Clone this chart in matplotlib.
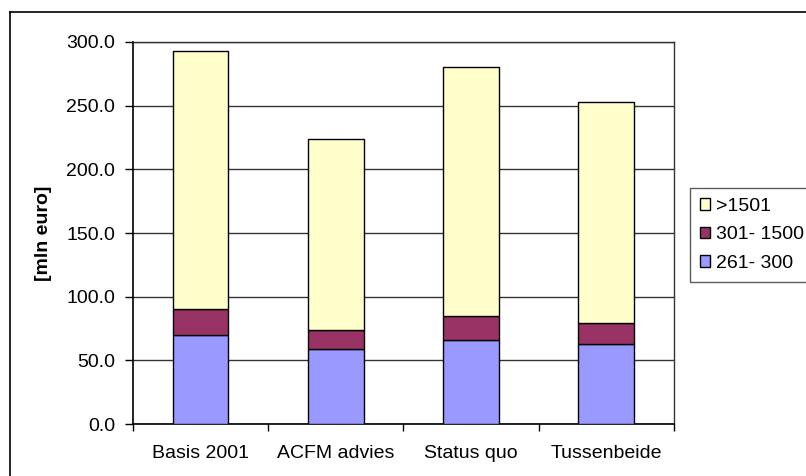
# Stacked bar chart: mln euro per scenario

import numpy as np
import matplotlib.pyplot as plt
from matplotlib.lines import Line2D
from matplotlib.ticker import MultipleLocator, FixedLocator

plt.rcParams['font.family'] = ['Liberation Sans', 'DejaVu Sans']

categories = ['Basis 2001', 'ACFM advies', 'Status quo', 'Tussenbeide']
series_names = ['261- 300', '301- 1500', '>1501']
v_261_300 = [70.0, 59.0, 66.0, 63.0]
v_301_1500 = [20.5, 15.0, 19.0, 16.0]
v_1501 = [202.5, 149.5, 195.0, 174.0]
colors = ['#9999FF', '#993366', '#FFFFCC']

FS = 14


def draw(values, names):
    fig = plt.figure(figsize=(8.06, 4.76), dpi=100)
    ax = fig.add_axes([0.165, 0.1092, 0.6710, 0.8026])

    x = np.arange(len(categories))
    bottom = np.zeros(len(categories))
    handles = []
    for vals, name, col in zip(values, names, colors):
        bars = ax.bar(x, vals, 0.41, bottom=bottom, color=col,
                      edgecolor='black', linewidth=1.0, label=name, zorder=3)
        handles.append(bars)
        bottom += np.array(vals)

    ax.set_xlim(-0.5, len(categories) - 0.5)
    ax.set_ylim(0, 300)
    ax.yaxis.set_major_locator(MultipleLocator(50))
    ax.set_yticklabels(['%.1f' % v for v in ax.get_yticks()])
    ax.yaxis.grid(True, color='#333333', linewidth=1.0, zorder=0)

    ax.set_xticks(x)
    ax.set_xticklabels(categories, fontsize=FS)
    ax.xaxis.set_minor_locator(FixedLocator(np.arange(-0.5, len(categories), 1.0)))
    ax.tick_params(axis='x', which='major', length=0, pad=15)
    ax.tick_params(axis='x', which='minor', length=5, width=1, color='black')
    ax.tick_params(axis='y', length=6, width=1, labelsize=FS, pad=7)

    for s in ['left', 'bottom']:
        ax.spines[s].set_color('black')
        ax.spines[s].set_linewidth(1.2)
    for s in ['top', 'right']:
        ax.spines[s].set_color('#333333')
        ax.spines[s].set_linewidth(1.0)

    ax.set_ylabel('[mln euro]', fontsize=FS, fontweight='bold', labelpad=10)

    # legend, reversed order like Excel
    leg = fig.legend(handles[::-1], names[::-1], loc='upper left',
                     bbox_to_anchor=(690 / 806, 1 - 188 / 476), fontsize=FS,
                     frameon=True, fancybox=False, handlelength=0.55,
                     handleheight=0.55, handletextpad=0.3, labelspacing=0.6,
                     borderpad=0.5, borderaxespad=0)
    leg.get_frame().set_edgecolor('#333333')
    leg.get_frame().set_linewidth(1.0)

    # chart area border (top and left visible)
    fig.add_artist(Line2D([10 / 806, 1.0], [1 - 12 / 476, 1 - 12 / 476],
                          color='black', linewidth=1.2))
    fig.add_artist(Line2D([10 / 806, 10 / 806], [0, 1 - 12 / 476],
                          color='black', linewidth=1.2))

    fig.savefig('out.png', dpi=100)


if __name__ == '__main__':
    draw([v_261_300, v_301_1500, v_1501], series_names)
